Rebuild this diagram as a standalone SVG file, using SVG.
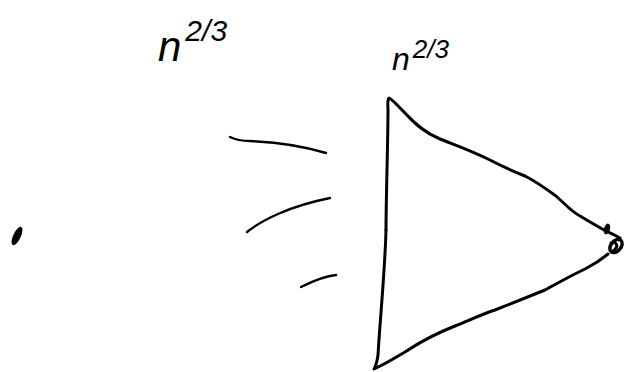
<svg xmlns="http://www.w3.org/2000/svg" width="627" height="372" viewBox="0 0 627 372">
<style>
.ink{fill:none;stroke:#000;stroke-width:3;stroke-linecap:round;stroke-linejoin:round}
.thin{fill:none;stroke:#000;stroke-width:2.4;stroke-linecap:round}
.lbl{font-family:"Liberation Sans",Arial,sans-serif;font-style:italic;fill:#000}
</style>
<rect width="627" height="372" fill="#fff"/>
<g id="label-left">
<text class="lbl" x="158" y="61" font-size="42">n<tspan font-size="30" dx="4" dy="-20">2/3</tspan></text>
</g>
<g id="label-right">
<text class="lbl" x="392" y="70" font-size="32">n<tspan font-size="26" dx="3" dy="-12">2/3</tspan></text>
</g>
<g id="dot">
<ellipse cx="17" cy="236" rx="3.8" ry="10" transform="rotate(25 17 236)" fill="#000"/>
</g>
<g id="triangle">
<path class="ink" d="M386,230 C386,200 388,140 388,110 C388,104 387,100 389,98 C394,101 398,106 404,112 C415,124 425,133 440,139 C455,145 470,150 490,160 C505,168 515,172 525,176 C535,181 545,188 556,196 C566,205 572,212 580,216 C590,222 597,226 604,230 C610,233 615,235 620,238"/>
<path class="ink" d="M386,230 C385,270 380,320 378,355 C377,362 376,366 374,369 C385,364 395,358 405,352 C420,342 432,335 455,326 C470,320 480,315 495,310 C515,302 530,296 545,290 C560,282 570,276 585,269 C595,264 602,259 608,254"/>
<ellipse cx="607" cy="229" rx="3" ry="5.5" transform="rotate(15 607 229)" fill="#000"/>
<ellipse cx="616" cy="246" rx="5" ry="7.5" transform="rotate(40 616 246)" fill="none" stroke="#000" stroke-width="3.5"/>
<path class="ink" d="M611,243 C616,241 620,246 613,251"/>
</g>
<g id="connectors">
<path class="thin" d="M230,137 C236,140 240,141 250,141 C275,142 300,145 326,153"/>
<path class="thin" d="M247,232 C262,220 290,206 330,198"/>
<path class="thin" d="M301,287 C315,280 325,276 336,275"/>
</g>
</svg>
